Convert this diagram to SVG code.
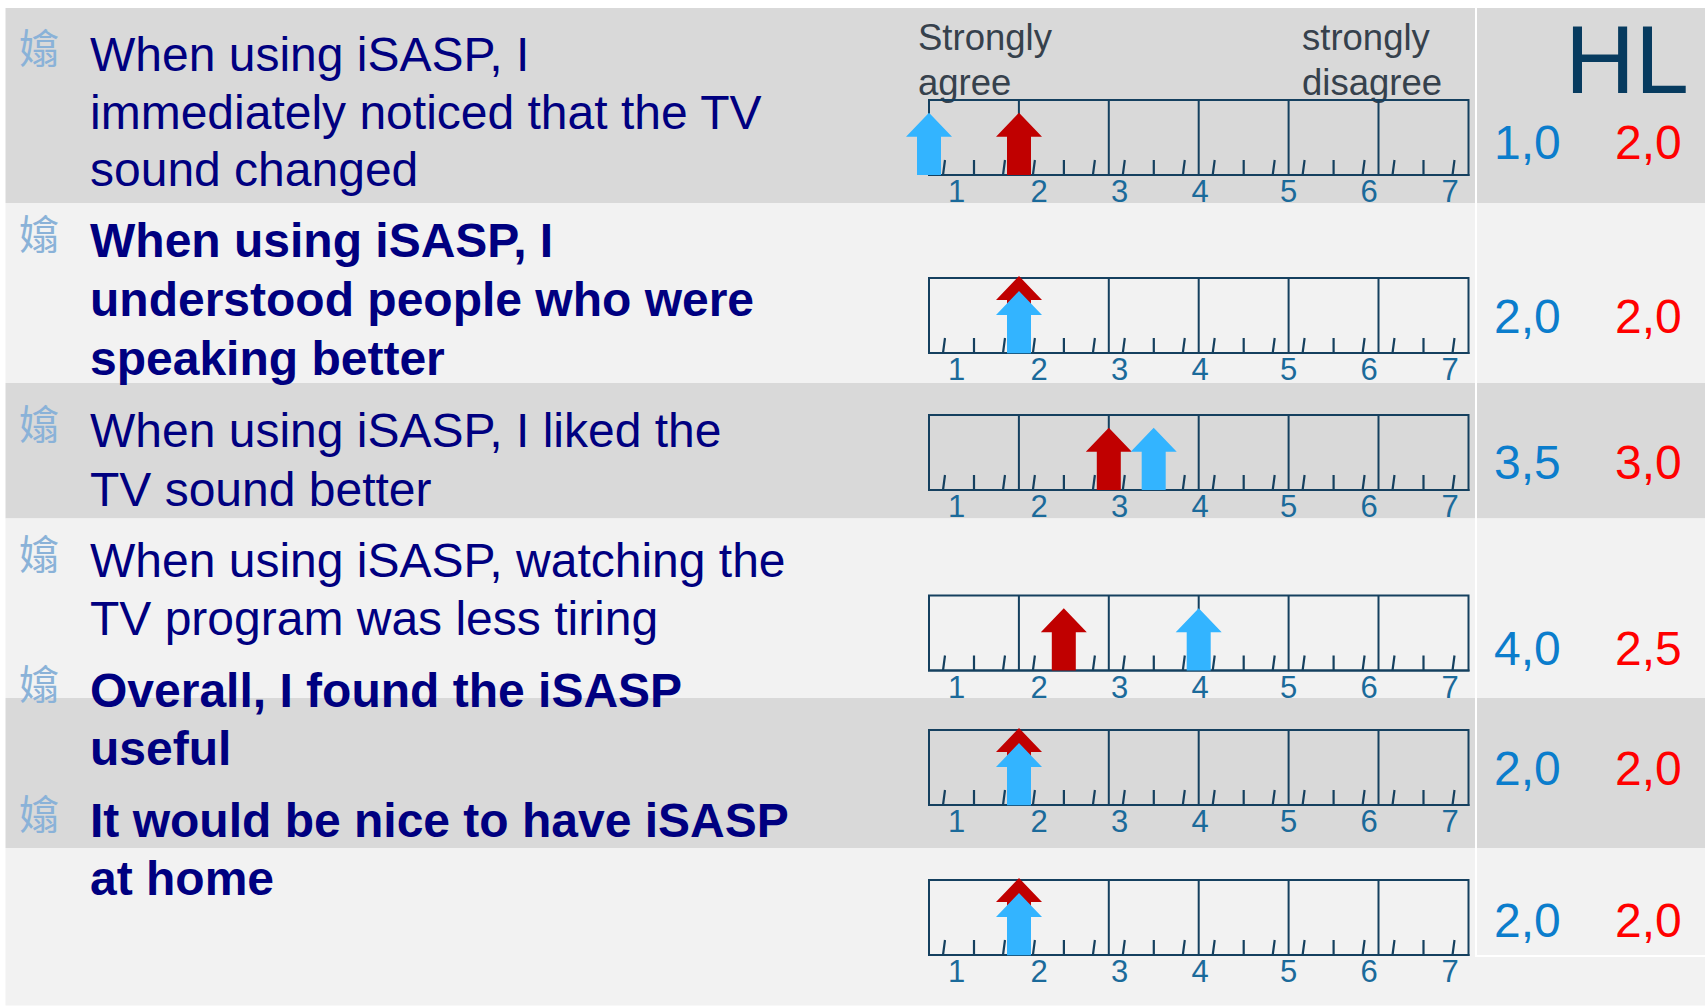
<svg xmlns="http://www.w3.org/2000/svg" xmlns:xlink="http://www.w3.org/1999/xlink" width="1705" height="1006" viewBox="0 0 1705 1006">
<style>
.q{font-family:"Liberation Sans",Arial,sans-serif;font-size:48px;fill:#000080}
.qb{font-weight:bold}
.bul{font-family:"Noto Sans CJK SC","Noto Sans CJK TC","Noto Sans CJK JP",sans-serif;font-size:40px;fill:#8ab2d8}
.hdr{font-family:"Liberation Sans",Arial,sans-serif;font-size:36.5px;fill:#36414c}
.num{font-family:"Liberation Sans",Arial,sans-serif;font-size:31px;fill:#1b6a9a;text-anchor:middle}
.vb{font-family:"Liberation Sans",Arial,sans-serif;font-size:48px;fill:#0b7dcc}
.vr{font-family:"Liberation Sans",Arial,sans-serif;font-size:48px;fill:#ff0000}
.rl{fill:none;stroke:#15405f;stroke-width:2}
.tk{fill:none;stroke:#15405f;stroke-width:2.2}
.ab{fill:#33b4ff}
.ar{fill:#c00000}
</style>
<defs>
<g id="ruler">
<rect class="rl" x="929" y="0" width="539.5" height="75"/>
<path class="rl" d="M1018.9,0V75M1108.8,0V75M1198.7,0V75M1288.6,0V75M1378.5,0V75"/>
<path class="rl" stroke-width="3" d="M928,75H1469.5"/>
<path class="tk" d="M943,75l2,-15M974,75v-15M1003,75l2,-15M1032.9,75l2,-15M1063.9,75v-15M1092.9,75l2,-15M1122.8,75l2,-15M1153.8,75v-15M1182.8,75l2,-15M1212.7,75l2,-15M1243.7,75v-15M1272.7,75l2,-15M1302.6,75l2,-15M1333.6,75v-15M1362.6,75l2,-15M1392.5,75l2,-15M1423.5,75v-15M1452.5,75l2,-15"/>
<text class="num" x="956.5" y="102">1</text>
<text class="num" x="1039" y="102">2</text>
<text class="num" x="1119.5" y="102">3</text>
<text class="num" x="1200" y="102">4</text>
<text class="num" x="1288.5" y="102">5</text>
<text class="num" x="1369" y="102">6</text>
<text class="num" x="1450" y="102">7</text>
</g>
<path id="arS" d="M0,0L23,24L12,24L12,62.3L-12,62.3L-12,24L-23,24Z"/>
<path id="arL" d="M0,0L23,24L12,24L12,77L-12,77L-12,24L-23,24Z"/>
</defs>

<g id="background">
<rect x="5.5" y="8" width="1699.5" height="195" fill="#d9d9d9"/>
<rect x="5.5" y="203" width="1699.5" height="180" fill="#f2f2f2"/>
<rect x="5.5" y="383" width="1699.5" height="135.5" fill="#d9d9d9"/>
<rect x="5.5" y="518.5" width="1699.5" height="179.5" fill="#f2f2f2"/>
<rect x="5.5" y="698" width="1699.5" height="150" fill="#d9d9d9"/>
<rect x="5.5" y="848" width="1699.5" height="157.5" fill="#f2f2f2"/>
<rect x="1475" y="8" width="2" height="949" fill="#ffffff"/>
<rect x="1475" y="955" width="230" height="2" fill="#ffffff"/>
</g>

<g id="header">
<text class="hdr" x="918" y="50">Strongly</text>
<text class="hdr" x="918" y="94.5">agree</text>
<text class="hdr" x="1302" y="50">strongly</text>
<text class="hdr" x="1302" y="94.5">disagree</text>
<text x="1565" y="92.5" font-family="Liberation Sans, Arial, sans-serif" font-size="97" fill="#073b5f">HL</text>
</g>

<g id="q1">
<text class="bul" x="19" y="63">嬆</text>
<text class="q" x="90" y="71">When using iSASP, I</text>
<text class="q" x="90" y="128.5">immediately noticed that the TV</text>
<text class="q" x="90" y="186">sound changed</text>
<use xlink:href="#ruler" href="#ruler" y="100"/>
<use xlink:href="#arS" href="#arS" class="ab" x="929" y="112.7"/>
<use xlink:href="#arS" href="#arS" class="ar" x="1019" y="112.7"/>
<text class="vb" x="1494" y="159">1,0</text>
<text class="vr" x="1615" y="159">2,0</text>
</g>

<g id="q2">
<text class="bul" x="19" y="249">嬆</text>
<text class="q qb" x="90" y="257">When using iSASP, I</text>
<text class="q qb" x="90" y="316">understood people who were</text>
<text class="q qb" x="90" y="375">speaking better</text>
<use xlink:href="#ruler" href="#ruler" y="278"/>
<use xlink:href="#arL" href="#arL" class="ar" x="1019" y="276"/>
<use xlink:href="#arS" href="#arS" class="ab" x="1019" y="291"/>
<text class="vb" x="1494" y="333">2,0</text>
<text class="vr" x="1615" y="333">2,0</text>
</g>

<g id="q3">
<text class="bul" x="19" y="439">嬆</text>
<text class="q" x="90" y="447">When using iSASP, I liked the</text>
<text class="q" x="90" y="505.5">TV sound better</text>
<use xlink:href="#ruler" href="#ruler" y="415"/>
<use xlink:href="#arS" href="#arS" class="ar" x="1108.8" y="427.7"/>
<use xlink:href="#arS" href="#arS" class="ab" x="1153.7" y="427.7"/>
<text class="vb" x="1494" y="479">3,5</text>
<text class="vr" x="1615" y="479">3,0</text>
</g>

<g id="q4">
<text class="bul" x="19" y="569">嬆</text>
<text class="q" x="90" y="577">When using iSASP, watching the</text>
<text class="q" x="90" y="635">TV program was less tiring</text>
<use xlink:href="#ruler" href="#ruler" y="595.5"/>
<use xlink:href="#arS" href="#arS" class="ar" x="1063.8" y="608.2"/>
<use xlink:href="#arS" href="#arS" class="ab" x="1198.7" y="608.2"/>
<text class="vb" x="1494" y="665">4,0</text>
<text class="vr" x="1615" y="665">2,5</text>
</g>

<g id="q5">
<text class="bul" x="19" y="699">嬆</text>
<text class="q qb" x="90" y="707">Overall, I found the iSASP</text>
<text class="q qb" x="90" y="765">useful</text>
<use xlink:href="#ruler" href="#ruler" y="730"/>
<use xlink:href="#arL" href="#arL" class="ar" x="1019" y="728"/>
<use xlink:href="#arS" href="#arS" class="ab" x="1019" y="743"/>
<text class="vb" x="1494" y="785">2,0</text>
<text class="vr" x="1615" y="785">2,0</text>
</g>

<g id="q6">
<text class="bul" x="19" y="829">嬆</text>
<text class="q qb" x="90" y="837">It would be nice to have iSASP</text>
<text class="q qb" x="90" y="895">at home</text>
<use xlink:href="#ruler" href="#ruler" y="880"/>
<use xlink:href="#arL" href="#arL" class="ar" x="1019" y="878"/>
<use xlink:href="#arS" href="#arS" class="ab" x="1019" y="893"/>
<text class="vb" x="1494" y="937">2,0</text>
<text class="vr" x="1615" y="937">2,0</text>
</g>
</svg>
